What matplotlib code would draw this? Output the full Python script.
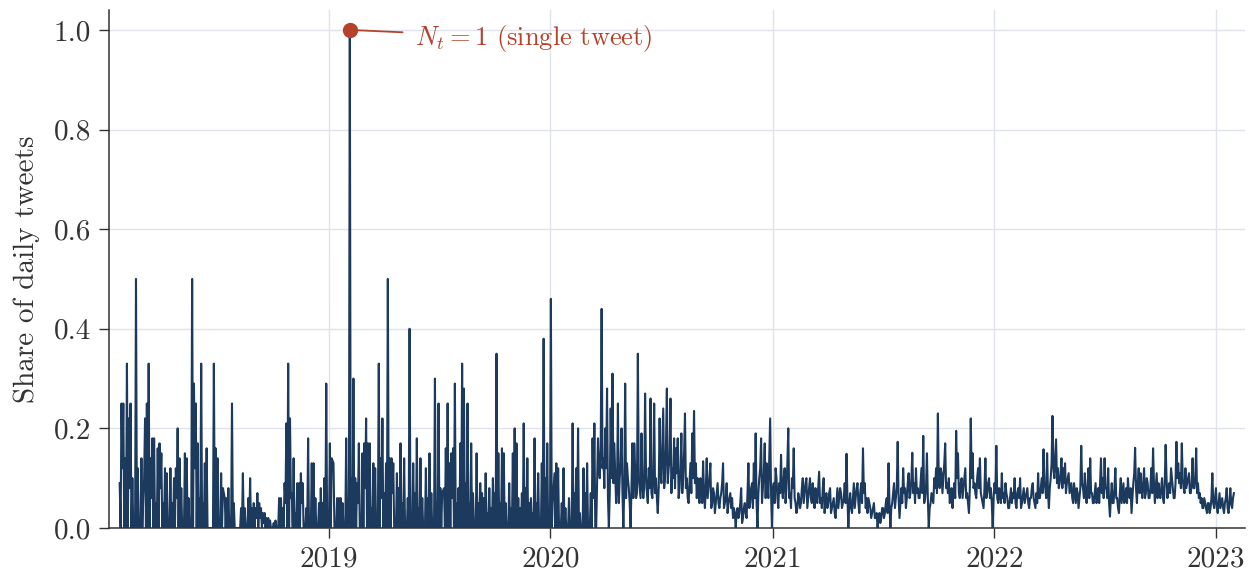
import matplotlib
matplotlib.use("Agg")
import matplotlib.pyplot as plt
import matplotlib.dates as mdates
import numpy as np
import pandas as pd

# share of daily tweets, one reading roughly every 1.5 days
share_2018_h1 = [
    0.09, 0.0, 0.25, 0.12, 0.25, 0.0, 0.14, 0.0, 0.33, 0.0,
    0.22, 0.08, 0.25, 0.0, 0.10, 0.0, 0.0, 0.0, 0.5, 0.0,
    0.12, 0.0, 0.0, 0.0, 0.14, 0.0, 0.06, 0.10, 0.22, 0.0,
    0.25, 0.0, 0.33, 0.0, 0.14, 0.06, 0.18, 0.0, 0.18, 0.0,
    0.05, 0.0, 0.16, 0.0, 0.17, 0.08, 0.15, 0.0, 0.05, 0.0,
    0.12, 0.0, 0.11, 0.0, 0.0, 0.0, 0.12, 0.0, 0.05, 0.0,
    0.10, 0.0, 0.12, 0.06, 0.20, 0.0, 0.14, 0.0, 0.08, 0.0,
    0.0, 0.0, 0.15, 0.0, 0.14, 0.0, 0.06, 0.0, 0.0, 0.0,
    0.5, 0.0, 0.29, 0.12, 0.25, 0.0, 0.17, 0.0, 0.06, 0.0,
    0.33, 0.0, 0.05, 0.0, 0.13, 0.0, 0.16, 0.0, 0.0, 0.0,
    0.0, 0.0, 0.0, 0.0, 0.33, 0.0, 0.16, 0.0, 0.14, 0.0,
    0.0, 0.0, 0.11, 0.0, 0.08,
]
share_2018_h2 = [
    0.06, 0.0, 0.06, 0.0, 0.08, 0.0, 0.0, 0.0, 0.25, 0.0,
    0.05, 0.0, 0.0, 0.0, 0.0, 0.0, 0.0, 0.0, 0.04, 0.0,
    0.11, 0.0, 0.04, 0.0, 0.0, 0.0, 0.06, 0.0, 0.10, 0.0,
    0.04, 0.0, 0.05, 0.0, 0.04, 0.02, 0.07, 0.0, 0.05, 0.02,
    0.04, 0.0, 0.03, 0.01, 0.03, 0.0, 0.02, 0.0, 0.02, 0.0,
    0.015, 0.0, 0.0, 0.0, 0.01, 0.0, 0.015, 0.0, 0.0, 0.0,
    0.06, 0.0, 0.06, 0.0, 0.04, 0.0, 0.09, 0.05, 0.21, 0.0,
    0.33, 0.0, 0.22, 0.06, 0.07, 0.0, 0.14, 0.0, 0.03, 0.0,
    0.09, 0.0, 0.09, 0.0, 0.11, 0.05, 0.09, 0.0, 0.0, 0.0,
    0.04, 0.0, 0.18, 0.0, 0.0, 0.0, 0.13, 0.0, 0.13, 0.0,
    0.06, 0.0, 0.0, 0.0, 0.05, 0.0, 0.08, 0.0, 0.05, 0.0,
    0.10, 0.0, 0.29, 0.0, 0.0, 0.0, 0.17, 0.0, 0.14,
]
share_2019_h1 = [
    0.13, 0.0, 0.0, 0.0, 0.06, 0.0, 0.06, 0.0, 0.06, 0.0,
    0.05, 0.0, 0.0, 0.0, 0.18, 0.0, 0.06, 0.0, 1.0, 0.0,
    0.10, 0.0, 0.30, 0.0, 0.10, 0.0, 0.09, 0.05, 0.17, 0.0,
    0.0, 0.0, 0.15, 0.0, 0.17, 0.08, 0.22, 0.0, 0.17, 0.0,
    0.17, 0.0, 0.04, 0.0, 0.13, 0.0, 0.12, 0.0, 0.0, 0.0,
    0.33, 0.0, 0.14, 0.06, 0.22, 0.0, 0.07, 0.0, 0.13, 0.0,
    0.5, 0.0, 0.14, 0.0, 0.14, 0.07, 0.13, 0.0, 0.0, 0.0,
    0.11, 0.0, 0.08, 0.0, 0.17, 0.0, 0.05, 0.0, 0.14, 0.0,
    0.0, 0.0, 0.06, 0.0, 0.4, 0.0, 0.0, 0.0, 0.13, 0.0,
    0.07, 0.0, 0.18, 0.0, 0.04, 0.0, 0.14, 0.0, 0.06, 0.0,
    0.0, 0.0, 0.12, 0.0, 0.06, 0.0, 0.15, 0.0, 0.07, 0.0,
    0.0, 0.0, 0.30, 0.0, 0.05, 0.0, 0.25, 0.0, 0.08, 0.0,
    0.07,
]
share_2019_h2 = [
    0.08, 0.0, 0.16, 0.0, 0.25, 0.0, 0.13, 0.0, 0.15, 0.06,
    0.16, 0.0, 0.29, 0.0, 0.05, 0.0, 0.08, 0.0, 0.17, 0.0,
    0.33, 0.0, 0.28, 0.0, 0.09, 0.0, 0.25, 0.0, 0.05, 0.0,
    0.17, 0.0, 0.07, 0.0, 0.0, 0.0, 0.15, 0.0, 0.05, 0.0,
    0.09, 0.0, 0.07, 0.0, 0.06, 0.0, 0.11, 0.0, 0.03, 0.0,
    0.08, 0.0, 0.04, 0.0, 0.10, 0.0, 0.07, 0.0, 0.35, 0.0,
    0.15, 0.0, 0.05, 0.0, 0.16, 0.0, 0.15, 0.0, 0.05, 0.0,
    0.0, 0.0, 0.09, 0.0, 0.04, 0.0, 0.15, 0.0, 0.20, 0.0,
    0.17, 0.0, 0.06, 0.0, 0.04, 0.0, 0.07, 0.0, 0.21, 0.0,
    0.08, 0.0, 0.14, 0.0, 0.05, 0.0, 0.06, 0.0, 0.03, 0.0,
    0.18, 0.0, 0.05, 0.0, 0.11, 0.0, 0.02, 0.0, 0.13, 0.0,
    0.38, 0.0, 0.10, 0.0, 0.17, 0.0, 0.0, 0.0, 0.46, 0.0,
    0.05,
]
share_2020_h1 = [
    0.11, 0.0, 0.13, 0.0, 0.12, 0.0, 0.0, 0.0, 0.05, 0.0,
    0.12, 0.0, 0.04, 0.0, 0.0, 0.0, 0.06, 0.0, 0.0, 0.0,
    0.21, 0.0, 0.07, 0.0, 0.12, 0.0, 0.20, 0.0, 0.03, 0.0,
    0.0, 0.0, 0.12, 0.0, 0.07, 0.0, 0.13, 0.0, 0.0, 0.0,
    0.07, 0.0, 0.18, 0.06, 0.21, 0.0, 0.0, 0.09, 0.18, 0.12,
    0.10, 0.16, 0.44, 0.12, 0.14, 0.08, 0.20, 0.12, 0.28, 0.06,
    0.0, 0.07, 0.24, 0.10, 0.31, 0.09, 0.17, 0.11, 0.05, 0.08,
    0.25, 0.05, 0.10, 0.13, 0.20, 0.07, 0.0, 0.08, 0.29, 0.06,
    0.13, 0.10, 0.08, 0.05, 0.0, 0.09, 0.17, 0.06, 0.17, 0.12,
    0.06, 0.07, 0.35, 0.10, 0.08, 0.06, 0.19, 0.09, 0.06, 0.08,
    0.27, 0.11, 0.07, 0.05, 0.12, 0.08, 0.26, 0.07, 0.06, 0.10,
    0.25, 0.07, 0.10, 0.06, 0.03, 0.08, 0.22, 0.11, 0.09,
]
share_2020_h2 = [
    0.24, 0.08, 0.10, 0.16, 0.28, 0.09, 0.12, 0.14, 0.26, 0.07,
    0.12, 0.10, 0.18, 0.08, 0.16, 0.11, 0.18, 0.06, 0.08, 0.12,
    0.19, 0.07, 0.10, 0.15, 0.23, 0.08, 0.10, 0.06, 0.05, 0.09,
    0.13, 0.07, 0.19, 0.10, 0.235, 0.09, 0.13, 0.06, 0.10, 0.07,
    0.05, 0.10, 0.08, 0.05, 0.134, 0.07, 0.04, 0.08, 0.14, 0.06,
    0.08, 0.10, 0.13, 0.04, 0.05, 0.08, 0.07, 0.03, 0.05, 0.07,
    0.09, 0.05, 0.04, 0.06, 0.07, 0.09, 0.13, 0.04, 0.05, 0.06,
    0.09, 0.03, 0.05, 0.06, 0.07, 0.04, 0.06, 0.02, 0.04, 0.03,
    0.0, 0.03, 0.04, 0.02, 0.03, 0.05, 0.08, 0.01, 0.02, 0.04,
    0.05, 0.03, 0.02, 0.07, 0.13, 0.04, 0.05, 0.08, 0.09, 0.04,
    0.13, 0.06, 0.19, 0.05, 0.0, 0.07, 0.10, 0.12, 0.18, 0.05,
    0.08, 0.11, 0.17, 0.06, 0.13, 0.09, 0.06, 0.14, 0.22, 0.07,
    0.0, 0.08, 0.09, 0.05, 0.12, 0.10, 0.06, 0.04, 0.09, 0.07,
    0.147, 0.08, 0.06, 0.10, 0.12, 0.05, 0.08, 0.13, 0.20, 0.06,
    0.07, 0.04, 0.10, 0.08, 0.16, 0.06, 0.05, 0.03, 0.04, 0.07,
    0.06, 0.04, 0.05, 0.08, 0.10, 0.05, 0.07, 0.09, 0.10, 0.04,
    0.06,
]
share_2021 = [
    0.10, 0.06, 0.05, 0.09, 0.07, 0.04, 0.08, 0.06, 0.05, 0.08,
    0.113, 0.05, 0.06, 0.04, 0.08, 0.10, 0.03, 0.06, 0.07, 0.04,
    0.05, 0.07, 0.08, 0.03, 0.04, 0.05, 0.06, 0.03, 0.02, 0.05,
    0.08, 0.04, 0.06, 0.08, 0.07, 0.04, 0.05, 0.06, 0.09, 0.05,
    0.149, 0.06, 0.0, 0.05, 0.07, 0.04, 0.03, 0.06, 0.09, 0.04,
    0.06, 0.08, 0.09, 0.05, 0.03, 0.07, 0.09, 0.05, 0.16, 0.07,
    0.09, 0.04, 0.06, 0.03, 0.06, 0.05, 0.04, 0.02, 0.03, 0.04,
    0.05, 0.02, 0.02, 0.03, 0.0, 0.02, 0.03, 0.01, 0.02, 0.04,
    0.04, 0.02, 0.03, 0.05, 0.06, 0.03, 0.13, 0.05, 0.0, 0.04,
    0.05, 0.07, 0.09, 0.04, 0.06, 0.08, 0.173, 0.06, 0.02, 0.05,
    0.08, 0.05, 0.12, 0.07, 0.08, 0.04, 0.06, 0.09, 0.11, 0.06,
    0.07, 0.10, 0.151, 0.07, 0.09, 0.05, 0.12, 0.07, 0.08, 0.06,
    0.06, 0.09, 0.12, 0.07, 0.185, 0.05, 0.06, 0.08, 0.15, 0.06,
    0.0, 0.04, 0.05, 0.07, 0.06, 0.05, 0.10, 0.08, 0.12, 0.07,
    0.23, 0.09, 0.08, 0.12, 0.11, 0.07, 0.10, 0.13, 0.17, 0.08,
    0.09, 0.07, 0.10, 0.05, 0.06, 0.08, 0.04, 0.07, 0.09, 0.06,
    0.195, 0.10, 0.15, 0.07, 0.06, 0.09, 0.10, 0.06, 0.08, 0.10,
    0.12, 0.06, 0.07, 0.05, 0.03, 0.08, 0.22, 0.10, 0.15, 0.08,
    0.09, 0.07, 0.06, 0.10, 0.12, 0.08, 0.14, 0.07, 0.06, 0.05,
    0.04, 0.08, 0.14, 0.06, 0.07, 0.09, 0.10, 0.06, 0.08, 0.05,
    0.0, 0.06, 0.09, 0.07, 0.165, 0.06, 0.05, 0.08, 0.07, 0.05,
    0.11, 0.06, 0.07, 0.05, 0.09, 0.07, 0.06, 0.04, 0.04, 0.06,
    0.08, 0.05, 0.07, 0.06, 0.10, 0.05, 0.04, 0.07, 0.08, 0.06,
    0.10, 0.04, 0.05,
]
share_2022_23 = [
    0.08, 0.05, 0.06, 0.07, 0.08, 0.05, 0.04, 0.06, 0.06, 0.08,
    0.09, 0.06, 0.05, 0.04, 0.07, 0.05, 0.11, 0.06, 0.06, 0.08,
    0.10, 0.07, 0.158, 0.09, 0.08, 0.06, 0.15, 0.07, 0.04, 0.08,
    0.10, 0.13, 0.225, 0.12, 0.10, 0.14, 0.178, 0.09, 0.12, 0.08,
    0.09, 0.11, 0.14, 0.08, 0.12, 0.09, 0.13, 0.07, 0.09, 0.10,
    0.11, 0.07, 0.08, 0.09, 0.06, 0.05, 0.09, 0.07, 0.05, 0.08,
    0.07, 0.04, 0.06, 0.08, 0.165, 0.09, 0.08, 0.06, 0.11, 0.07,
    0.05, 0.08, 0.12, 0.06, 0.14, 0.07, 0.07, 0.05, 0.05, 0.07,
    0.09, 0.05, 0.06, 0.08, 0.05, 0.09, 0.14, 0.07, 0.10, 0.06,
    0.14, 0.08, 0.08, 0.06, 0.12, 0.05, 0.023, 0.06, 0.09, 0.05,
    0.05, 0.08, 0.12, 0.06, 0.06, 0.04, 0.03, 0.07, 0.10, 0.05,
    0.07, 0.09, 0.05, 0.06, 0.08, 0.05, 0.10, 0.07, 0.06, 0.08,
    0.03, 0.06, 0.09, 0.11, 0.161, 0.08, 0.05, 0.09, 0.12, 0.07,
    0.11, 0.08, 0.06, 0.09, 0.12, 0.06, 0.07, 0.10, 0.09, 0.06,
    0.06, 0.08, 0.12, 0.07, 0.16, 0.09, 0.05, 0.08, 0.11, 0.06,
    0.09, 0.07, 0.06, 0.08, 0.10, 0.06, 0.05, 0.09, 0.167, 0.10,
    0.06, 0.08, 0.09, 0.07, 0.12, 0.10, 0.08, 0.06, 0.06, 0.09,
    0.173, 0.10, 0.13, 0.09, 0.11, 0.08, 0.17, 0.10, 0.08, 0.07,
    0.12, 0.08, 0.09, 0.10, 0.11, 0.07, 0.07, 0.09, 0.14, 0.08,
    0.08, 0.10, 0.16, 0.07, 0.09, 0.06, 0.07, 0.05, 0.06, 0.04,
    0.04, 0.06, 0.05, 0.04, 0.03, 0.05, 0.05, 0.03, 0.04, 0.06,
    0.11, 0.05, 0.04, 0.06, 0.08, 0.04, 0.03, 0.05, 0.07, 0.04,
    0.05, 0.06, 0.04, 0.03, 0.05, 0.06, 0.08, 0.04, 0.03, 0.05,
    0.08, 0.05, 0.04, 0.06, 0.07,
]

# first and last day covered by each block above
periods = [
    (share_2018_h1, "2018-01-21 13:00", "2018-07-10 14:00"),
    (share_2018_h2, "2018-07-13 14:00", "2019-01-05 17:00"),
    (share_2019_h1, "2019-01-08 17:00", "2019-07-06 17:00"),
    (share_2019_h2, "2019-07-09 17:00", "2020-01-04 17:00"),
    (share_2020_h1, "2020-01-07 17:00", "2020-07-01 19:00"),
    (share_2020_h2, "2020-07-04 19:00", "2021-02-28 14:00"),
    (share_2021, "2021-03-03 12:00", "2022-02-15 14:00"),
    (share_2022_23, "2022-02-18 14:00", "2023-01-30 17:00"),
]
y_ticks = [0.0, 0.2, 0.4, 0.6, 0.8, 1.0]

LINE = "#1c3a5e"
RED = "#b5432b"
INK = "#333333"

plt.rcParams["font.family"] = "cmr10"
plt.rcParams["mathtext.fontset"] = "cm"
plt.rcParams["axes.formatter.use_mathtext"] = True

share = np.concatenate([np.array(vals) for vals, _, _ in periods])
dates = pd.DatetimeIndex(np.concatenate([
    pd.date_range(start, end, periods=len(vals)).values
    for vals, start, end in periods
]))

fig = plt.figure(figsize=(12.49, 5.71), dpi=100)
ax = fig.add_axes([0.0873, 0.0753, 0.9095, 0.9072])

ax.plot(dates, share, color=LINE, lw=1.5, zorder=2)

# mark the day made of a single tweet
peak = int(share.argmax())
ax.plot(dates[peak], share[peak], "o", color=RED, ms=10, zorder=4)
ax.annotate(r"$N_t = 1$ (single tweet)", xy=(dates[peak], share[peak]),
            xytext=(47, -6), textcoords="offset points",
            ha="left", va="center", fontsize=19, color=RED,
            arrowprops=dict(arrowstyle="-", color=RED, lw=1.3,
                            shrinkA=7, shrinkB=0), zorder=3)

ax.set_xlim(pd.Timestamp("2018-01-04"), pd.Timestamp("2023-02-18"))
ax.set_ylim(0, 1.04)
ax.set_yticks(y_ticks)
ax.set_yticklabels([f"{t:.1f}" for t in y_ticks])
ax.xaxis.set_major_locator(mdates.YearLocator())
ax.xaxis.set_major_formatter(mdates.DateFormatter("%Y"))

ax.grid(True, color="#e1e3ea", lw=1.0, zorder=0)
ax.set_axisbelow(True)
for side in ["top", "right"]:
    ax.spines[side].set_visible(False)
for side in ["left", "bottom"]:
    ax.spines[side].set_color(INK)
    ax.spines[side].set_linewidth(1.1)

ax.tick_params(axis="both", direction="out", length=7, width=1.0,
               color=INK, labelcolor=INK, labelsize=21, pad=6)
ax.set_ylabel("Share of daily tweets", fontsize=21, color=INK, labelpad=10)

fig.savefig("out.png", dpi=100)
